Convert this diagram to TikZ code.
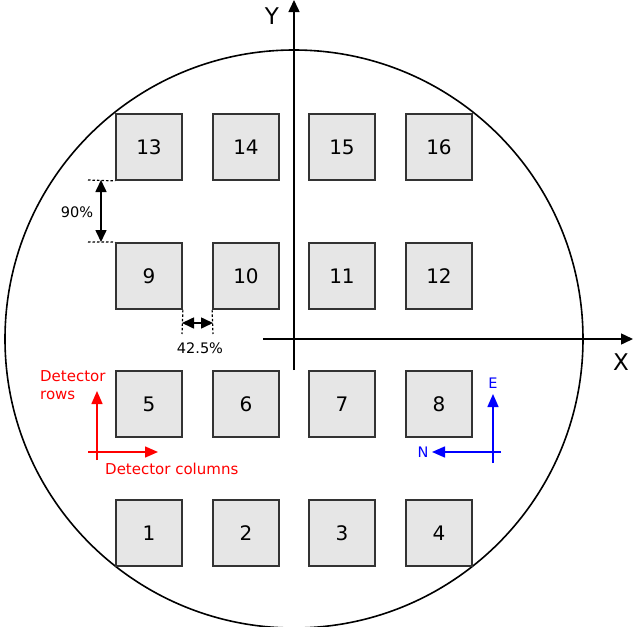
\documentclass[tikz,border=0pt]{standalone}
\usepackage{fontspec}
\setmainfont{DejaVu Sans}
\usetikzlibrary{arrows.meta}
\definecolor{boxfill}{HTML}{E6E6E6}
\definecolor{boxline}{HTML}{333333}
\tikzset{
  det/.style={draw=boxline, fill=boxfill, line width=1.8pt, minimum size=66pt, inner sep=0pt, font=\fontsize{20}{24}\selectfont},
  axis/.style={line width=1.5pt, -{Triangle[length=12pt,width=11pt]}},
  dim/.style={line width=1.6pt, {Triangle[length=12pt,width=11pt]}-{Triangle[length=12pt,width=11pt]}},
  ext/.style={line width=1.2pt, dash pattern=on 2.5pt off 2pt},
  redarr/.style={red, line width=1.5pt, -{Triangle[length=13pt,width=11pt]}},
  bluearr/.style={blue, line width=1.5pt, -{Triangle[length=13pt,width=11pt]}},
  lbl/.style={font=\fontsize{14.5}{18}\selectfont, inner sep=0pt},
}
\begin{document}
\begin{tikzpicture}[x=1pt,y=-1pt]
\useasboundingbox (0,0) rectangle (633,627);
% wafer circle
\draw[line width=1.6pt] (294,339) circle[radius=289];
% detectors
\foreach \n/\x/\y in {13/149/147,14/246/147,15/342/147,16/439/147,
                      9/149/276,10/246/276,11/342/276,12/439/276,
                      5/149/404,6/246/404,7/342/404,8/439/404,
                      1/149/533,2/246/533,3/342/533,4/439/533}
  \node[det] (d\n) at (\x,\y) {\n};
% axes
\coordinate (yb) at (294,370);
\coordinate (yt) at (294,0);
\coordinate (xl) at (263,339);
\coordinate (xr) at (633,339);
\draw[axis] (yb) -- (yt);
\draw[axis] (xl) -- (xr);
\node[font=\fontsize{23}{27}\selectfont, inner sep=0pt] (ylab) at (272,16) {Y};
\node[font=\fontsize{23}{27}\selectfont, inner sep=0pt] (xlab) at (621,362) {X};
% 90% dimension
\coordinate (e1) at (88,180);
\coordinate (e2) at (88,242);
\draw[ext] (e1) -- (d13.south west);
\draw[ext] (e2) -- (d9.north west);
\coordinate (v1) at (101,180);
\coordinate (v2) at (101,242);
\draw[dim] (v1) -- (v2);
\node[lbl] (p90) at (77,212) {90\%};
% 42.5% dimension
\coordinate (f1) at (182,334);
\coordinate (f2) at (213,334);
\draw[ext] (d9.south east) -- (f1);
\draw[ext] (d10.south west) -- (f2);
\coordinate (h1) at (182,323);
\coordinate (h2) at (213,323);
\draw[dim] (h1) -- (h2);
\node[lbl] (p425) at (200,348) {42.5\%};
% detector rows/columns
\coordinate (r0) at (97,460);
\coordinate (r1) at (97,391);
\coordinate (c0) at (88,452);
\coordinate (c1) at (158,452);
\draw[redarr] (r0) -- (r1);
\draw[redarr] (c0) -- (c1);
\node[lbl, red, align=left, anchor=north west, font=\fontsize{15}{18.5}\selectfont] (rows) at (40,370) {Detector\\rows};
\node[lbl, red, anchor=west, font=\fontsize{15}{18}\selectfont] (cols) at (105,469) {Detector columns};
% E/N
\coordinate (b0) at (493,463);
\coordinate (b1) at (493,394);
\coordinate (n0) at (501,452);
\coordinate (n1) at (432,452);
\draw[bluearr] (b0) -- (b1);
\draw[bluearr] (n0) -- (n1);
\node[lbl, blue] (east) at (493,383) {E};
\node[lbl, blue] (north) at (423,452) {N};
\end{tikzpicture}
\end{document}
